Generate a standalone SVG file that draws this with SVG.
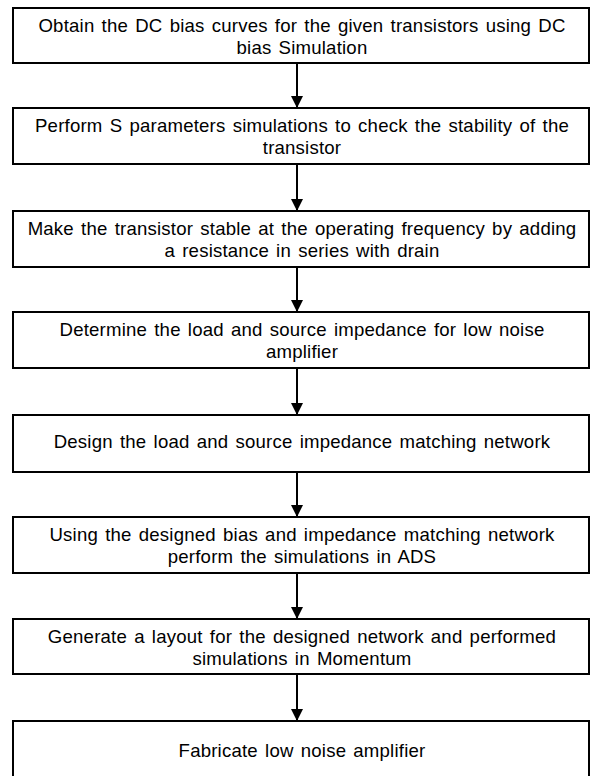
<svg xmlns="http://www.w3.org/2000/svg" width="595" height="776" viewBox="0 0 595 776">
<defs>
<style>
.box{fill:#fff;stroke:#000;stroke-width:2}
.t{font-family:"Liberation Sans",Arial,sans-serif;font-size:18.6px;letter-spacing:0.2px;word-spacing:1.8px;fill:#000;text-anchor:middle}
.c{stroke:#000;stroke-width:2;fill:none;marker-end:url(#ah)}
</style>
<marker id="ah" markerWidth="12" markerHeight="14" refX="12" refY="6" orient="auto" markerUnits="userSpaceOnUse" viewBox="0 0 12 12">
<path d="M0,0 L12,6 L0,12 Z" fill="#000"/>
</marker>
</defs>
<rect width="595" height="776" fill="#fff"/>
<g id="connectors">
<line class="c" x1="297" y1="63" x2="297" y2="108"/>
<line class="c" x1="297" y1="164" x2="297" y2="211"/>
<line class="c" x1="297" y1="267" x2="297" y2="312"/>
<line class="c" x1="297" y1="368" x2="297" y2="415"/>
<line class="c" x1="297" y1="472" x2="297" y2="517"/>
<line class="c" x1="297" y1="573" x2="297" y2="619"/>
<line class="c" x1="297" y1="674" x2="297" y2="721"/>
</g>
<g id="n1"><rect class="box" x="13" y="8" width="576" height="55"/>
<text class="t" x="302" y="32">Obtain the DC bias curves for the given transistors using DC</text>
<text class="t" x="302" y="54">bias Simulation</text></g>
<g id="n2"><rect class="box" x="13" y="108" width="576" height="56"/>
<text class="t" x="302" y="132">Perform S parameters simulations to check the stability of the</text>
<text class="t" x="302" y="154">transistor</text></g>
<g id="n3"><rect class="box" x="13" y="211" width="576" height="56"/>
<text class="t" x="302" y="235">Make the transistor stable at the operating frequency by adding</text>
<text class="t" x="302" y="257">a resistance in series with drain</text></g>
<g id="n4"><rect class="box" x="13" y="312" width="576" height="56"/>
<text class="t" x="302" y="336">Determine the load and source impedance for low noise</text>
<text class="t" x="302" y="358">amplifier</text></g>
<g id="n5"><rect class="box" x="13" y="415" width="576" height="57"/>
<text class="t" x="302" y="448">Design the load and source impedance matching network</text></g>
<g id="n6"><rect class="box" x="13" y="517" width="576" height="56"/>
<text class="t" x="302" y="541">Using the designed bias and impedance matching network</text>
<text class="t" x="302" y="563">perform the simulations in ADS</text></g>
<g id="n7"><rect class="box" x="13" y="619" width="576" height="55"/>
<text class="t" x="302" y="643">Generate a layout for the designed network and performed</text>
<text class="t" x="302" y="665">simulations in Momentum</text></g>
<g id="n8"><rect class="box" x="13" y="721" width="576" height="62"/>
<text class="t" x="302" y="757">Fabricate low noise amplifier</text></g>
</svg>
